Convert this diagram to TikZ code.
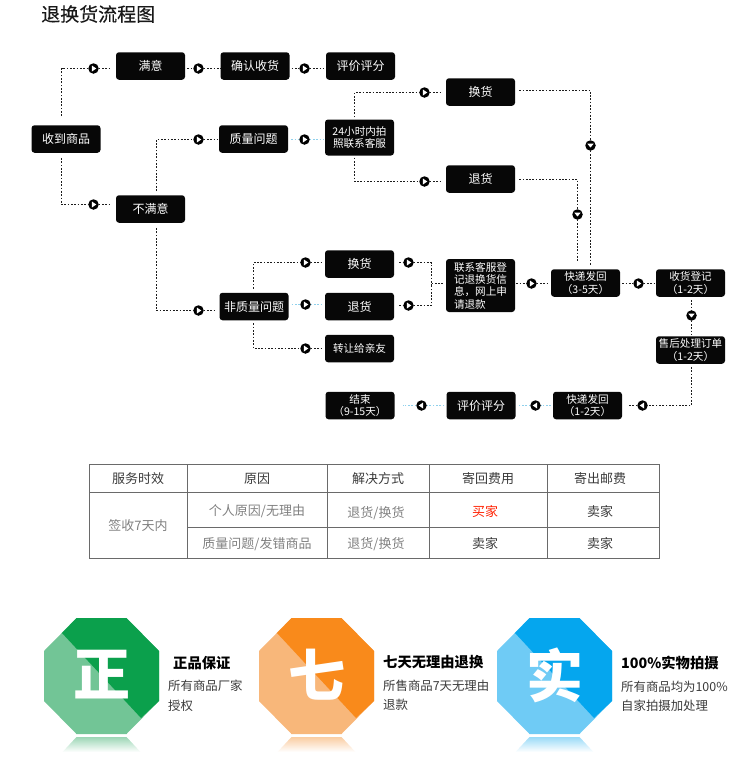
\documentclass[tikz,border=0pt]{standalone}
\usepackage{fontspec}
\setmainfont{Noto Sans CJK SC}
\newfontfamily\titlefont[FakeBold=0.35]{Noto Sans CJK SC}
\newcommand{\fsz}[1]{\fontsize{#1}{#1}\selectfont}
\newcommand{\fszl}[2]{\fontsize{#1}{#2}\selectfont}
\definecolor{ink}{HTML}{070707}
\definecolor{lineblk}{HTML}{1C1C1C}
\definecolor{lineblu}{HTML}{8FD0EC}
\definecolor{tbl}{HTML}{6A6A6A}
\definecolor{greyt}{HTML}{808080}
\definecolor{headt}{HTML}{3A3A3A}
\definecolor{greenD}{HTML}{0BA04C}
\definecolor{greenL}{HTML}{72C596}
\definecolor{orangeD}{HTML}{F98A1B}
\definecolor{orangeL}{HTML}{F8B77A}
\definecolor{blueD}{HTML}{05A6EE}
\definecolor{blueL}{HTML}{6FCBF5}
\tikzset{
  box/.style={fill=ink,rounded corners=3pt,text=white,minimum width=69pt,minimum height=27.5pt,inner sep=0pt,align=center,font=\fsz{12}},
  small/.style={font=\fszl{10.6}{12.3}},
  conn/.style={draw=lineblk,line width=1.7pt,dash pattern=on 1.7pt off 1.6pt},
  connb/.style={draw=lineblu,line width=1.7pt,dash pattern=on 1.7pt off 1.6pt},
  mk/.style={circle,fill=black,minimum size=10.5pt,inner sep=0pt,outer sep=0pt},
  mkr/.style={mk,path picture={\fill[white] ([xshift=-1.6pt,yshift=3pt]path picture bounding box.center) -- ++(4.4,3) -- ++(-4.4,3) -- cycle;}},
  mkl/.style={mk,path picture={\fill[white] ([xshift=1.6pt,yshift=3pt]path picture bounding box.center) -- ++(-4.4,3) -- ++(4.4,3) -- cycle;}},
  mkd/.style={mk,path picture={\fill[white] ([xshift=-3.2pt,yshift=1.8pt]path picture bounding box.center) -- ++(6.4,0) -- ++(-3.2,3.8) -- cycle;}},
  tcell/.style={font=\fsz{13},text=greyt,inner sep=0pt},
  thead/.style={font=\fsz{13},text=headt,inner sep=0pt},
  bighead/.style={font=\bfseries\fsz{14.3},text=black,anchor=west,inner sep=0pt},
  desc/.style={font=\fsz{12.4},text=headt,anchor=west,inner sep=0pt},
}
% #1 centre x, #2 dark, #3 light, #4 character, #5 name
\newcommand{\octabadge}[5]{%
  \begin{scope}[shift={(#1,676)}]
    \fill[#3] (-25,-58) -- (25,-58) -- (57.5,-25) -- (57.5,25) -- (25,58) -- (-25,58) -- (-57.5,25) -- (-57.5,-25) -- cycle;
    \fill[#2] (-39.5,-43) -- (-25,-58) -- (25,-58) -- (57.5,-25) -- (57.5,25) -- (39.5,42) -- cycle;
    \shade[top color=#3!70!white,bottom color=white] (-25,61) -- (25,61) -- (39,76) -- (-39,76) -- cycle;
    \node[text=white,font=\bfseries\fsz{57},inner sep=0pt] (#5) at (0,-1) {#4};
  \end{scope}}
\begin{document}
\begin{tikzpicture}[x=1pt,y=-1pt]
\useasboundingbox (0,0) rectangle (750,769);
\node[font=\titlefont\fsz{19},text=black!90,anchor=west,inner sep=0pt] (title) at (41,14) {退换货流程图};
% process boxes
\node[box] (recv)  at (66,139) {收到商品};
\node[box] (man)   at (150.5,66) {满意};
\node[box] (conf)  at (255,66) {确认收货};
\node[box] (evalA) at (360.5,66) {评价评分};
\node[box] (qual)  at (253.5,139) {质量问题};
\node[box,small,minimum height=36pt] (photo) at (359.5,137.5) {24小时内拍\\照联系客服};
\node[box] (bad)   at (150.5,209) {不满意};
\node[box] (swapA) at (480.5,92) {换货};
\node[box] (backA) at (480.5,179) {退货};
\node[box] (nonq)  at (254,306.5) {非质量问题};
\node[box] (swapB) at (359.5,264) {换货};
\node[box] (backB) at (359.5,306.5) {退货};
\node[box,font=\fsz{10.6}] (gift) at (359.5,348.5) {转让给亲友};
\node[box,small,minimum height=53pt,align=left] (cont) at (480.5,285.5) {联系客服登\\记退换货信\\息，网上申\\请退款};
\node[box,small] (expA) at (585.5,283) {快递发回\\（3-5天）};
\node[box,small] (rcvd) at (690.5,283) {收货登记\\（1-2天）};
\node[box,small] (after) at (690.5,350) {售后处理订单\\（1-2天）};
\node[box,small] (expB) at (587.5,405.5) {快递发回\\（1-2天）};
\node[box] (evalB) at (481,405.5) {评价评分};
\node[box,small] (done) at (360,405.5) {结束\\（9-15天）};
% markers
\node[mkr] (m1) at (93.5,68.5) {};
\node[mkr] (m2) at (198.5,68.5) {};
\node[mkr] (m3) at (304.5,68.5) {};
\node[mkr] (m4) at (93.5,204.5) {};
\node[mkr] (m5) at (198.5,139.5) {};
\node[mkr] (m6) at (304.5,139.5) {};
\node[mkr] (m7) at (424.5,92.5) {};
\node[mkr] (m8) at (424.5,181.5) {};
\node[mkd] (m9) at (590.5,145.5) {};
\node[mkd] (m10) at (577.5,214.5) {};
\node[mkr] (m11) at (198.5,310.5) {};
\node[mkr] (m12) at (305.5,262.5) {};
\node[mkr] (m13) at (305.5,304.5) {};
\node[mkr] (m14) at (305.5,348.5) {};
\node[mkr] (m15) at (408.5,262.5) {};
\node[mkr] (m16) at (408.5,305.5) {};
\node[mkr] (m17) at (531.5,283.5) {};
\node[mkr] (m18) at (638.5,283.5) {};
\node[mkd] (m19) at (691.5,315.5) {};
\node[mkl] (m20) at (642.5,405.5) {};
\node[mkl] (m21) at (535.5,405.5) {};
\node[mkl] (m22) at (421.5,405.5) {};
\coordinate (j) at (431.5,283.5);
% connectors
\draw[conn,shorten <=9pt] ([xshift=-4.5pt]recv.north) |- (m1);
\draw[conn,shorten >=4pt] (m1) -- (m1 -| man.west);
\draw[conn,shorten <=2pt] (m2 -| man.east) -- (m2);
\draw[conn] (m2) -- (m2 -| conf.west);
\draw[conn,shorten <=2pt] (m3 -| conf.east) -- (m3);
\draw[conn,shorten >=2pt] (m3) -- (m3 -| evalA.west);
\draw[conn,shorten <=5pt] ([xshift=-4.5pt]recv.south) |- (m4);
\draw[conn,shorten >=4pt] (m4) -- (m4 -| bad.west);
\draw[conn,shorten <=4pt] ([xshift=6pt]bad.north) |- (m5);
\draw[conn,shorten >=1pt] (m5) -- (m5 -| qual.west);
\draw[connb,shorten <=3pt] (m6 -| qual.east) -- (m6);
\draw[connb,shorten >=1pt] (m6) -- (m6 -| photo.west);
\draw[conn,shorten <=2pt] ([xshift=-5pt]photo.north) |- (m7);
\draw[conn,shorten >=4pt] (m7) -- (m7 -| swapA.west);
\draw[conn,shorten <=2pt] ([xshift=-5pt]photo.south) |- (m8);
\draw[conn,shorten >=4pt] (m8) -- (m8 -| backA.west);
\draw[conn,shorten <=4pt] ([yshift=1.5pt]swapA.east) -| (m9);
\draw[conn,shorten >=4pt] (m9) -- (m9 |- expA.north);
\draw[conn,shorten <=4pt] ([yshift=-0.5pt]backA.east) -| (m10);
\draw[conn,shorten >=7pt] (m10) -- (m10 |- expA.north);
\draw[conn,shorten <=5pt] ([xshift=6pt]bad.south) |- (m11);
\draw[conn,shorten >=3pt] (m11) -- (m11 -| nonq.west);
\draw[conn,shorten <=4pt] ([xshift=-0.5pt]nonq.north) |- (m12);
\draw[conn,shorten >=4pt] (m12) -- (m12 -| swapB.west);
\draw[connb,shorten <=3pt] (m13 -| nonq.east) -- (m13);
\draw[connb,shorten >=2pt] (m13) -- (m13 -| backB.west);
\draw[conn,shorten <=3pt] ([xshift=-0.5pt]nonq.south) |- (m14);
\draw[conn,shorten >=4pt] (m14) -- (m14 -| gift.west);
\draw[conn,shorten <=5pt] (m15 -| swapB.east) -- (m15);
\draw[conn,shorten <=5pt] (m16 -| backB.east) -- (m16);
\draw[conn] (m15) -| (j);
\draw[conn] (m16) -| (j);
\draw[conn,shorten >=3pt] (j) -- (j -| cont.west);
\draw[conn,shorten <=1pt] (m17 -| cont.east) -- (m17);
\draw[conn,shorten >=3pt] (m17) -- (m17 -| expA.west);
\draw[conn,shorten <=2pt] (m18 -| expA.east) -- (m18);
\draw[conn,shorten >=2pt] (m18) -- (m18 -| rcvd.west);
\draw[conn,shorten <=3pt] (m19 |- rcvd.south) -- (m19);
\draw[conn,shorten >=1pt] (m19) -- (m19 |- after.north);
\draw[conn,shorten <=3pt] (m19 |- after.south) |- (m20);
\draw[conn,shorten >=7pt] (m20) -- (m20 -| expB.east);
\draw[connb,shorten <=2pt] (m21 -| expB.west) -- (m21);
\draw[connb,shorten >=2pt] (m21) -- (m21 -| evalB.east);
\draw[connb,shorten <=2pt] (m22 -| evalB.west) -- (m22);
\draw[connb,shorten >=8pt] (m22) -- (m22 -| done.east);
% table
\draw[tbl,line width=1pt] (89.5,464.5) rectangle (659.5,558.5);
\draw[tbl,line width=1pt] (89.5,492.5) -- (659.5,492.5);
\draw[tbl,line width=1pt] (187.5,527.5) -- (659.5,527.5);
\draw[tbl,line width=1pt] (187.5,464.5) -- (187.5,558.5);
\draw[tbl,line width=1pt] (327.5,464.5) -- (327.5,558.5);
\draw[tbl,line width=1pt] (429.5,464.5) -- (429.5,558.5);
\draw[tbl,line width=1pt] (547.5,464.5) -- (547.5,558.5);
\node[thead] (h1) at (138,478.5) {服务时效};
\node[thead] (h2) at (257,478.5) {原因};
\node[thead] (h3) at (378,478.5) {解决方式};
\node[thead] (h4) at (488,478.5) {寄回费用};
\node[thead] (h5) at (600,478.5) {寄出邮费};
\node[tcell] (c1) at (138,526) {签收7天内};
\node[tcell] (c2) at (257,511) {个人原因/无理由};
\node[tcell] (c3) at (257,544) {质量问题/发错商品};
\node[tcell] (c4) at (376,513) {退货/换货};
\node[tcell] (c5) at (376,544) {退货/换货};
\node[thead,text=red!75!orange] (c6) at (485,512) {买家};
\node[thead] (c7) at (600,512) {卖家};
\node[thead] (c8) at (485,544) {卖家};
\node[thead] (c9) at (600,544) {卖家};
% badges
\octabadge{101.5}{greenD}{greenL}{正}{bgA}
\octabadge{316.5}{orangeD}{orangeL}{七}{bgB}
\octabadge{554.5}{blueD}{blueL}{实}{bgC}
\node[bighead] (ta) at (173,663) {正品保证};
\node[desc] (da) at (168,686) {所有商品厂家};
\node[desc] (db) at (168,706) {授权};
\node[bighead] (tb) at (383,662) {七天无理由退换};
\node[desc] (dc) at (383,686) {所售商品7天无理由};
\node[desc] (dd) at (383,705) {退款};
\node[bighead] (tc) at (621,663) {100\%实物拍摄};
\node[desc] (de) at (621,687) {所有商品均为100\%};
\node[desc] (df) at (621,706) {自家拍摄加处理};
\end{tikzpicture}
\end{document}
